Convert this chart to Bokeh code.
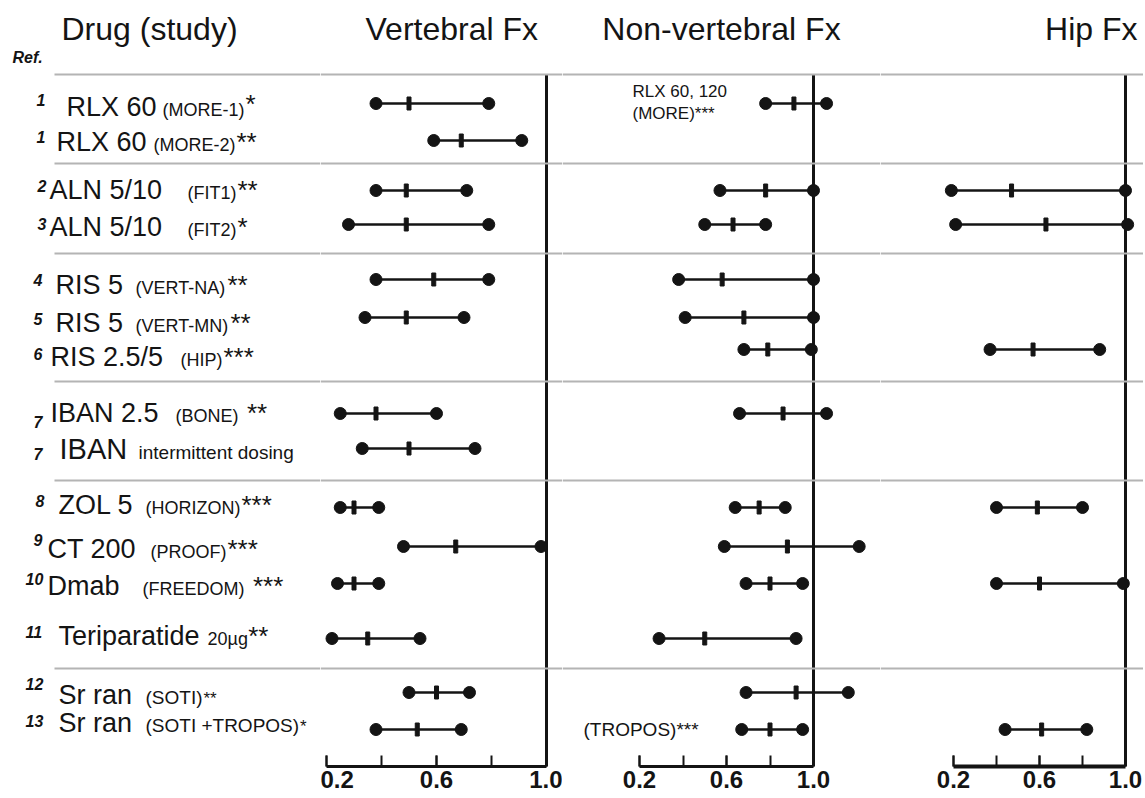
import numpy as np
from bokeh.plotting import figure
from bokeh.models import ColumnDataSource, Range1d, FixedTicker, NumeralTickFormatter, Span
from bokeh.layouts import row
from bokeh.embed import file_html
from bokeh.resources import INLINE
from bokeh.core.properties import value

# ---------------- data ----------------
ref_nums = ["1", "1", "2", "3", "4", "5", "6", "7", "7", "8", "9", "10", "11", "12", "13"]
drugs = ["RLX 60", "RLX 60", "ALN 5/10", "ALN 5/10", "RIS 5", "RIS 5", "RIS 2.5/5",
         "IBAN 2.5", "IBAN", "ZOL 5", "CT 200", "Dmab", "Teriparatide", "Sr ran", "Sr ran"]
studies = ["(MORE-1)", "(MORE-2)", "(FIT1)", "(FIT2)", "(VERT-NA)", "(VERT-MN)", "(HIP)",
           "(BONE)", "intermittent dosing", "(HORIZON)", "(PROOF)", "(FREEDOM)", "20µg",
           "(SOTI)", "(SOTI +TROPOS)"]
stars = ["*", "**", "**", "*", "**", "**", "***", "**", "", "***", "***", "***", "**", "**", "*"]

panel_titles = ["Vertebral Fx", "Non-vertebral Fx", "Hip Fx"]
left_title = "Drug (study)"
ref_title = "Ref."

vert_rows = [0, 1, 2, 3, 4, 5, 7, 8, 9, 10, 11, 12, 13, 14]
vert_lo = [0.38, 0.59, 0.38, 0.28, 0.38, 0.34, 0.25, 0.33, 0.25, 0.48, 0.24, 0.22, 0.50, 0.38]
vert_rr = [0.50, 0.69, 0.49, 0.49, 0.59, 0.49, 0.38, 0.50, 0.30, 0.67, 0.30, 0.35, 0.60, 0.53]
vert_hi = [0.79, 0.91, 0.71, 0.79, 0.79, 0.70, 0.60, 0.74, 0.39, 0.98, 0.39, 0.54, 0.72, 0.69]

nonvert_rows = [0, 2, 3, 4, 5, 6, 7, 9, 10, 11, 12, 13, 14]
nonvert_lo = [0.78, 0.57, 0.50, 0.38, 0.41, 0.68, 0.66, 0.64, 0.59, 0.69, 0.29, 0.69, 0.67]
nonvert_rr = [0.91, 0.78, 0.63, 0.58, 0.68, 0.79, 0.86, 0.75, 0.88, 0.80, 0.50, 0.92, 0.80]
nonvert_hi = [1.06, 1.00, 0.78, 1.00, 1.00, 0.99, 1.06, 0.87, 1.21, 0.95, 0.92, 1.16, 0.95]
nonvert_notes = ["RLX 60, 120", "(MORE)***", "(TROPOS)***"]

hip_rows = [2, 3, 6, 9, 11, 14]
hip_lo = [0.19, 0.21, 0.37, 0.40, 0.40, 0.44]
hip_rr = [0.47, 0.63, 0.57, 0.59, 0.60, 0.61]
hip_hi = [1.00, 1.01, 0.88, 0.80, 0.99, 0.82]

axis_labelled = [0.2, 0.6, 1.0]
axis_ticks = [0.2, 0.4, 0.6, 0.8, 1.0]
null_rr = 1.0

# ---------------- layout (page-pixel coordinates) ----------------
row_y = [103, 140, 190, 224, 279, 317, 349, 413, 448, 507, 546, 583, 638, 692, 729]
sep_y = [74, 163, 253, 381, 480, 668]
text_base = [117, 152, 200, 237, 295, 333, 367, 423, 460, 515, 559, 596, 646, 705, 733]
refnum_base = [106, 143, 192, 230, 286, 325, 360, 428, 460, 507, 546, 585, 638, 690, 727]
refnum_x = [36, 36, 37, 37, 33, 33, 33, 33, 33, 35, 33, 25, 25, 25, 25]
drug_x = [66, 56, 49, 49, 55, 55, 50, 50, 59, 58, 47, 47, 58, 58, 58]
drug_px = [27, 27, 27, 27, 27, 27, 27, 27, 29, 27, 27, 27, 27, 27, 27]
study_x = [162, 153, 187, 187, 135, 135, 180, 175, 138, 145, 150, 142, 207, 145, 145]
star_gap = [0, 0, 0, 0, 0, 0, 0, 1, 0, 0, 0, 1, 0, 0, 0]
star_lift = [3, 0, 0, 0, 0, 0, 0, 0, 0, 0, 0, 0, 0, 0, 0]
study_px = [18, 18, 18, 18, 18, 18, 18, 18, 19, 18, 18, 18, 18, 19, 19]
star_px = [26] * 13 + [17, 17]

FONT = "Liberation Sans"
INK = "#141414"
SEP = "#b4b4b4"
Y_TOP, Y_BOT = 0, 766
PAD_B = 31
H = Y_BOT - Y_TOP + PAD_B
BASE_SHIFT = 0.40   # em offset between requested and drawn alphabetic baseline

panels = [
    dict(left=320, right=562, origin=326, ppu=275.0),
    dict(left=562, right=880, origin=639, ppu=217.5),
    dict(left=880, right=1143, origin=953, ppu=215.0),
]
L_LEFT, L_RIGHT = 0, 320

# Arial / Liberation Sans advance widths (em/1000) used to place the superscript stars
ADV = {" ": 278, "(": 333, ")": 333, "*": 389, "+": 584, "-": 333, ".": 278, "/": 278,
       "µ": 576, "A": 667, "B": 667, "C": 722, "D": 722, "E": 667, "F": 611, "G": 778,
       "H": 722, "I": 278, "L": 556, "M": 833, "N": 722, "O": 778, "P": 667, "R": 722,
       "S": 667, "T": 611, "V": 667, "X": 667, "Z": 611}


def text_w(s, px):
    return sum(ADV.get(c, 556 if c.isdigit() else 520) for c in s) * px / 1000.0


def to_v(pan, px):
    return 0.2 + (px - pan["origin"]) / pan["ppu"]


def base_fig(width, x0, x1, with_axis):
    p = figure(width=width, height=H, x_range=Range1d(x0, x1), y_range=Range1d(Y_BOT, Y_TOP),
               output_backend="svg", toolbar_location=None,
               x_axis_location="below" if with_axis else None, y_axis_location=None,
               min_border_left=0, min_border_right=0, min_border_top=0, min_border_bottom=PAD_B,
               background_fill_color="white", border_fill_color="white", outline_line_color=None)
    p.grid.visible = False
    return p


def txt(p, x, y, t, px, style="normal", align="left"):
    ys = [v - BASE_SHIFT * px for v in y]
    src = ColumnDataSource(dict(x=x, y=ys, t=t))
    p.text(x="x", y="y", text="t", source=src, text_font=value(FONT),
           text_font_size=value(f"{px}px"), text_font_style=style, text_align=align,
           text_baseline="alphabetic", text_color=INK)


# ---------------- label column ----------------
pL = base_fig(L_RIGHT - L_LEFT, L_LEFT, L_RIGHT, False)
pL.segment(x0=[54] * len(sep_y), y0=sep_y, x1=[L_RIGHT] * len(sep_y), y1=sep_y,
           line_color=SEP, line_width=2)
txt(pL, [61], [41], [left_title], 32)
txt(pL, [12], [63], [ref_title], 16, "bold italic")
txt(pL, refnum_x, refnum_base, ref_nums, 16, "bold italic")
for i in range(len(drugs)):
    txt(pL, [drug_x[i]], [text_base[i]], [drugs[i]], drug_px[i])
    txt(pL, [study_x[i]], [text_base[i]], [studies[i]], study_px[i])
    if stars[i]:
        sx = study_x[i] + text_w(studies[i], study_px[i]) + star_gap[i] * text_w(" ", 27) + 1
        txt(pL, [sx], [text_base[i] - star_lift[i]], [stars[i]], star_px[i])

# ---------------- forest panels ----------------
series = [(vert_rows, vert_lo, vert_rr, vert_hi),
          (nonvert_rows, nonvert_lo, nonvert_rr, nonvert_hi),
          (hip_rows, hip_lo, hip_rr, hip_hi)]
figs = [pL]
for k, pan in enumerate(panels):
    x0, x1 = to_v(pan, pan["left"]), to_v(pan, pan["right"])
    p = base_fig(pan["right"] - pan["left"], x0, x1, True)
    for y in sep_y:
        p.add_layout(Span(location=y, dimension="width", line_color=SEP, line_width=2))
    p.segment(x0=[null_rr], y0=[sep_y[0]], x1=[null_rr], y1=[Y_BOT], line_color=INK, line_width=3)

    rows_k, lo, rr, hi = series[k]
    src = ColumnDataSource(dict(y=[row_y[i] for i in rows_k], lo=lo, rr=rr, hi=hi))
    p.segment(x0="lo", y0="y", x1="hi", y1="y", source=src, line_color=INK, line_width=2.6)
    p.scatter(x="lo", y="y", source=src, size=12, color=INK)
    p.scatter(x="hi", y="y", source=src, size=12, color=INK)
    p.rect(x="rr", y="y", width=4, height=13, width_units="screen", height_units="screen",
           source=src, color=INK)

    ax = p.xaxis[0]
    ax.bounds = (axis_ticks[0], axis_ticks[-1])
    ax.ticker = FixedTicker(ticks=axis_labelled, minor_ticks=axis_ticks)
    ax.formatter = NumeralTickFormatter(format="0.0")
    ax.major_tick_in = 11
    ax.major_tick_out = 0
    ax.minor_tick_in = 11
    ax.minor_tick_out = 0
    ax.axis_line_width = 4 if k == 2 else 3
    ax.axis_line_color = INK
    ax.major_tick_line_width = 2
    ax.minor_tick_line_width = 2
    ax.major_tick_line_color = INK
    ax.minor_tick_line_color = INK
    ax.major_label_text_font = FONT
    ax.major_label_text_font_size = "24px"
    ax.major_label_text_font_style = "bold"
    ax.major_label_text_color = INK
    ax.major_label_standoff = 4

    if k == 0:
        txt(p, [to_v(pan, 365)], [41], [panel_titles[0]], 32)
    elif k == 1:
        txt(p, [to_v(pan, 721)], [41], [panel_titles[1]], 32, align="center")
        txt(p, [to_v(pan, 632), to_v(pan, 632)], [98, 120], nonvert_notes[:2], 17)
        txt(p, [to_v(pan, 583)], [737], [nonvert_notes[2]], 19)
    else:
        txt(p, [to_v(pan, 1137)], [41], [panel_titles[2]], 32, align="right")
    figs.append(p)

layout = row(*figs)
open("out.html", "w").write(file_html(layout, INLINE))
